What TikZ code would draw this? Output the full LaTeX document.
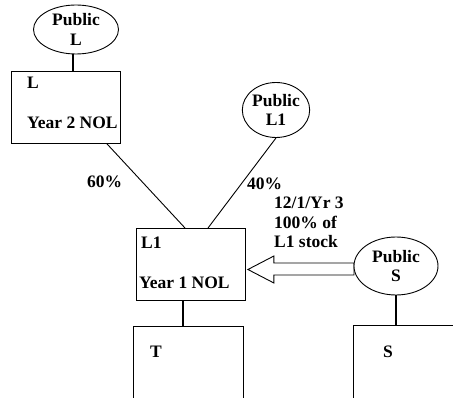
\documentclass[tikz,border=0pt]{standalone}
\usepackage{fontspec}
\setmainfont{Liberation Serif}
\usetikzlibrary{shapes.geometric,calc}
\begin{document}
\begin{tikzpicture}[x=1pt,y=-1pt,
  font=\fontsize{17.5}{19.5}\selectfont\bfseries,
  box/.style={draw, line width=0.9pt, rectangle, inner sep=0pt, anchor=north west},
  pub/.style={draw, ellipse, line width=0.9pt, inner sep=0pt, align=center, fill=white},
  txt/.style={inner sep=0pt, anchor=base west},
  thick link/.style={line width=2.6pt},
  thin link/.style={line width=0.9pt}]
\useasboundingbox (0,0) rectangle (453,398);
\clip (0,0) rectangle (453,398);

% boxes
\node[box, minimum width=109pt, minimum height=72pt] (L) at (11,71) {};
\node[box, minimum width=109pt, minimum height=72pt] (L1) at (136,228) {};
\node[box, minimum width=110pt, minimum height=90pt] (T) at (133,326) {};
\node[box, minimum width=110pt, minimum height=90pt] (S) at (353,325) {};

% box texts
\node[txt] (Lt) at (27,89) {L};
\node[txt] (Ly) at (27,129) {Year 2 NOL};
\node[txt] (L1t) at (141,249) {L1};
\node[txt] (L1y) at (139,289) {Year 1 NOL};
\node[txt] (Tt) at (150,358) {T};
\node[txt] (St) at (383,358) {S};

% arrow from Public S to L1
\coordinate (tip) at ($(L1.north east)+(2,41.5)$);
\draw[line width=0.9pt, fill=white]
  (tip) -- ++(26,-13.5) -- ++(0,7) -- (354,263) -- (354,275) -- ($(tip)+(26,5.5)$) -- ++(0,8) -- cycle;

% ellipses
\node[pub, minimum width=85pt, minimum height=49pt] (PL) at (76,29.5) {Public\\L};
\node[pub, minimum width=62pt, minimum height=55pt] (PL1) at (276,110) {Public\\L1};
\node[pub, minimum width=84pt, minimum height=58pt] (PS) at (396,266) {Public\\S};

% connector end points
\coordinate (aPL) at ($(PL.south)+(-3,0)$);
\coordinate (aL) at (aPL |- L.north);
\coordinate (aL1) at ($(L1.south west)+(47,0)$);
\coordinate (aT) at (aL1 |- T.north);
\coordinate (aL60) at ($(L.south west)+(96,0)$);
\coordinate (bL60) at ($(L1.north west)+(49,0)$);
\coordinate (bL40) at ($(L1.north west)+(72,0)$);

% thick connectors
\draw[thick link] (aPL) -- (aL);
\draw[thick link] (aL1) -- (aT);
\draw[thick link] (PS.south) -- (PS.south |- S.north);

% thin connectors
\draw[thin link] (aL60) -- (bL60);
\draw[thin link] (PL1.south) -- (bL40);

% labels
\node[txt] (p60) at (87,188) {60\%};
\node[txt] (p40) at (247,190) {40\%};
\node[txt, align=left, anchor=north west] (deal) at (274,197) {12/1/Yr 3\\100\% of\\L1 stock};
\end{tikzpicture}
\end{document}
